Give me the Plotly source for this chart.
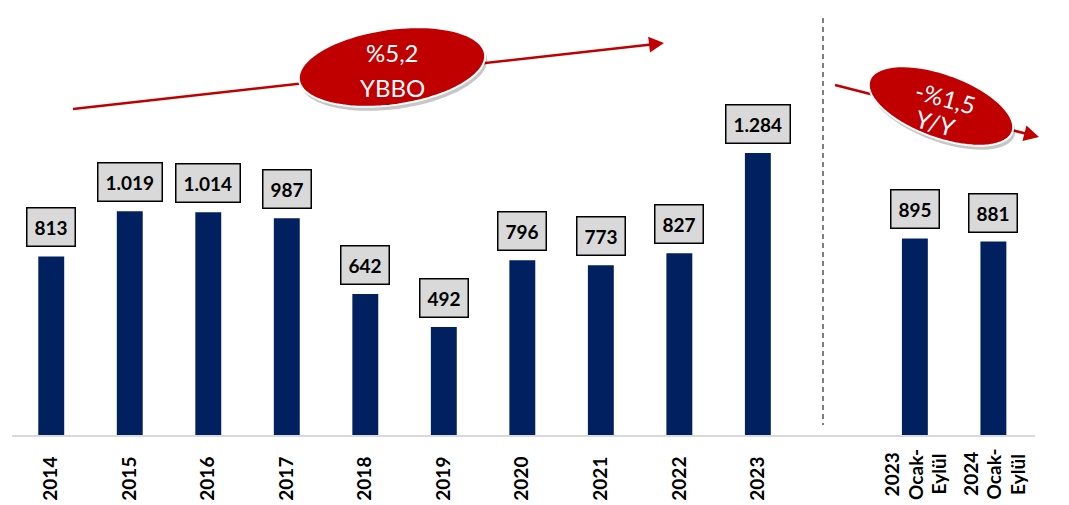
import math
import plotly.graph_objects as go

# ---- data ----
year_labels = ["2014", "2015", "2016", "2017", "2018", "2019", "2020", "2021", "2022", "2023"]
year_values = [813, 1019, 1014, 987, 642, 492, 796, 773, 827, 1284]
ytd_labels = ["2023<br>Ocak-<br>Eylül", "2024<br>Ocak-<br>Eylül"]
ytd_values = [895, 881]
spacer = [" "]
cagr_text = ["%5,2", "YBBO"]
yoy_text = ["-%1,5", "Y/Y"]

categories = year_labels + spacer + ytd_labels
values = year_values + [None] + ytd_values

BAR = "#002060"
RED = "#c00000"
TICKFONT = dict(family="Lato", size=19, color="black", weight="bold")

# ---- layout geometry (pixels, page coordinates) ----
OFF = 8  # default body margin of the html page
W, H = 1069 - OFF, 505 - OFF
PLOT_L, PLOT_R, PLOT_T, PLOT_B = 12, 1035, 10, 435  # page coordinates
ML, MR = PLOT_L - OFF, W - (PLOT_R - OFF)
MT, MB = PLOT_T - OFF, H - (PLOT_B - OFF)
PW, PH = PLOT_R - PLOT_L, PLOT_B - PLOT_T


def paper(x, y):
    return (x - PLOT_L) / PW, (PLOT_B - y) / PH


def ellipse_path(cx, cy, a, b, deg, dx=0, dy=0):
    t = math.radians(deg)
    pts = []
    for i in range(73):
        u = 2 * math.pi * i / 72
        x = cx + dx + a * math.cos(u) * math.cos(t) - b * math.sin(u) * math.sin(t)
        y = cy + dy + a * math.cos(u) * math.sin(t) + b * math.sin(u) * math.cos(t)
        px, py = paper(x, y)
        pts.append(f"{px:.5f},{py:.5f}")
    return "M " + " L ".join(pts) + " Z"


def arrow_shapes(x0, y0, x1, y1, color, width=2.5, head_len=15, head_w=8):
    ang = math.atan2(y1 - y0, x1 - x0)
    bx, by = x1 - head_len * math.cos(ang), y1 - head_len * math.sin(ang)
    nx, ny = -math.sin(ang), math.cos(ang)
    p0 = paper(x0, y0)
    pb = paper(bx + 2 * math.cos(ang), by + 2 * math.sin(ang))
    line = dict(type="line", xref="paper", yref="paper", x0=p0[0], y0=p0[1], x1=pb[0], y1=pb[1],
                line=dict(color=color, width=width), layer="above")
    a1 = paper(bx + nx * head_w, by + ny * head_w)
    a2 = paper(bx - nx * head_w, by - ny * head_w)
    tip = paper(x1, y1)
    head = dict(type="path", xref="paper", yref="paper",
                path=f"M {tip[0]:.5f},{tip[1]:.5f} L {a1[0]:.5f},{a1[1]:.5f} L {a2[0]:.5f},{a2[1]:.5f} Z",
                fillcolor=color, line=dict(width=0), layer="above")
    return [line, head]


fig = go.Figure()
fig.add_trace(go.Bar(x=categories, y=values, marker=dict(color=BAR, line=dict(width=0)),
                     width=0.33, hoverinfo="skip"))

# value labels (category index positions)
annotations = []
for i, v in enumerate(values):
    if v is None:
        continue
    annotations.append(dict(
        x=i, y=v, xref="x", yref="y", yanchor="bottom", yshift=9, showarrow=False,
        text=f"{v:,}".replace(",", "."),
        font=dict(family="Lato", size=19, color="black", weight="bold"),
        bgcolor="#d9d9d9", bordercolor="black", borderwidth=1.5, borderpad=7,
    ))

# multi-line period labels below the axis (lines spaced like the original)
_, label_y = paper(0, 474)
start = len(year_labels) + len(spacer)
for j, lab in enumerate(ytd_labels):
    lines = lab.split("<br>")
    for k, ln in enumerate(lines):
        annotations.append(dict(
            x=start + j, y=label_y, xref="x", yref="paper", showarrow=False, text=ln,
            textangle=-90, xanchor="center", yanchor="middle",
            xshift=(k - (len(lines) - 1) / 2) * 23.5, font=TICKFONT,
        ))

shapes = []
# dashed separator
sx0, sy0 = paper(823, 18)
sx1, sy1 = paper(823, 425)
shapes.append(dict(type="line", xref="paper", yref="paper", x0=sx0, y0=sy0, x1=sx1, y1=sy1,
                   line=dict(color="#7f7f7f", width=2, dash="5px,4px")))

# CAGR arrow + ellipse
shapes += arrow_shapes(73, 109, 664, 43, RED)
shapes.append(dict(type="path", xref="paper", yref="paper", path=ellipse_path(392, 67, 94, 38, -8, 2, 4),
                   fillcolor="rgba(0,0,0,0.22)", line=dict(width=0), layer="above"))
shapes.append(dict(type="path", xref="paper", yref="paper", path=ellipse_path(392, 67, 94, 38, -8),
                   fillcolor=RED, line=dict(color="white", width=2), layer="above"))

# YoY arrow + ellipse
shapes += arrow_shapes(835, 85, 1039, 137, RED)
shapes.append(dict(type="path", xref="paper", yref="paper", path=ellipse_path(941, 106, 76, 32, 20, 2, 4),
                   fillcolor="rgba(0,0,0,0.22)", line=dict(width=0), layer="above"))
shapes.append(dict(type="path", xref="paper", yref="paper", path=ellipse_path(941, 106, 76, 32, 20),
                   fillcolor=RED, line=dict(color="white", width=2), layer="above"))

# ellipse texts
for txt, (px, py), ang in [(cagr_text[0], (392, 52), 0), (cagr_text[1], (392, 88), 0),
                           (yoy_text[0], (945, 97), 15), (yoy_text[1], (935, 122), 15)]:
    ax, ay = paper(px, py)
    annotations.append(dict(x=ax, y=ay, xref="paper", yref="paper", showarrow=False, text=txt,
                            textangle=ang, xanchor="center", yanchor="middle",
                            font=dict(family="Lato", size=24, color="white")))

ticktext = year_labels + [""] * (len(spacer) + len(ytd_labels))

fig.update_layout(
    width=W, height=H,
    margin=dict(l=ML, r=MR, t=MT, b=MB),
    paper_bgcolor="white", plot_bgcolor="white",
    showlegend=False,
    shapes=shapes, annotations=annotations,
    xaxis=dict(type="category", categoryorder="array", categoryarray=categories,
               tickmode="array", tickvals=categories, ticktext=ticktext,
               range=[-0.5, 12.53], showgrid=False, zeroline=False,
               showline=True, linecolor="#d9d9d9", linewidth=2,
               ticks="", tickangle=-90, ticklabelstandoff=12, tickfont=TICKFONT),
    yaxis=dict(range=[0, 1935], visible=False, showgrid=False, zeroline=False),
)

fig.write_html("out.html")
